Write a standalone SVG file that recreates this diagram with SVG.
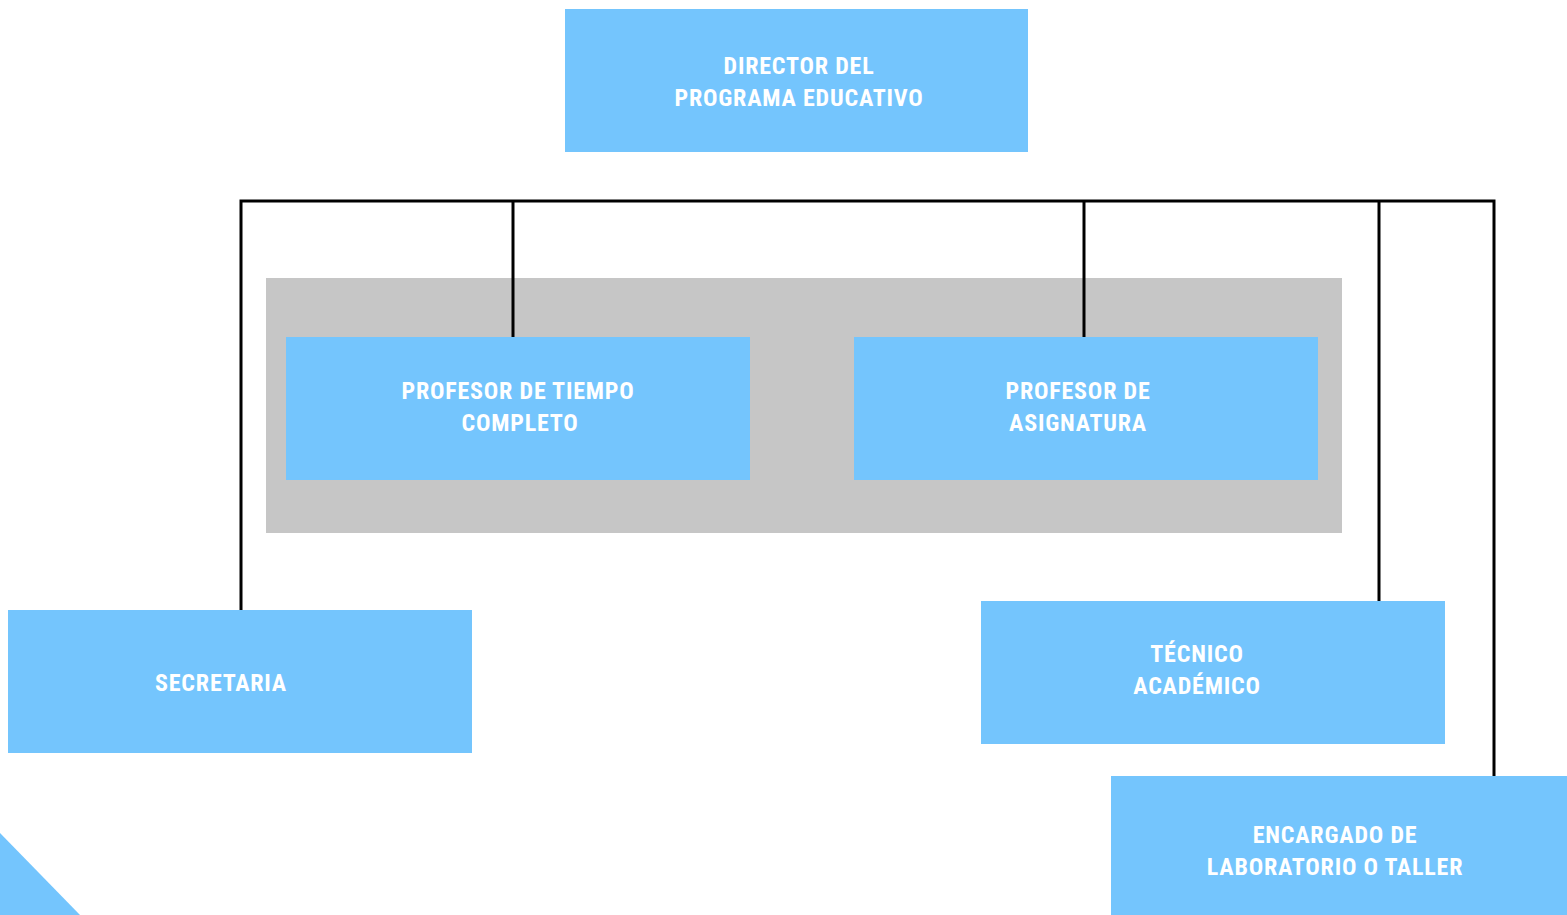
<svg xmlns="http://www.w3.org/2000/svg" width="1567" height="915" viewBox="0 0 1567 915">
<style>
.box{fill:#74C5FD}
.lbl{font-family:"Liberation Sans Narrow","Roboto Condensed","Liberation Sans",sans-serif;font-weight:bold;font-size:24px;letter-spacing:0.8px;fill:#FFFFFF;text-anchor:middle}
.ln{stroke:#000;stroke-width:3;fill:none}
</style>
<rect width="1567" height="915" fill="#FFFFFF"/>
<rect x="266" y="278" width="1076" height="255" fill="#C6C6C6"/>
<polygon points="0,833 80,915 0,915" fill="#74C5FD"/>
<g id="connectors">
<polyline class="ln" points="241,610 241,201 1494,201 1494,776"/>
<line class="ln" x1="513" y1="201" x2="513" y2="337"/>
<line class="ln" x1="1084" y1="201" x2="1084" y2="337"/>
<line class="ln" x1="1379" y1="201" x2="1379" y2="601"/>
</g>
<g id="director">
<rect class="box" x="565" y="9" width="463" height="143"/>
<text class="lbl" x="799" y="74">DIRECTOR DEL</text>
<text class="lbl" x="799" y="106">PROGRAMA EDUCATIVO</text>
</g>
<g id="prof-tiempo">
<rect class="box" x="286" y="337" width="464" height="143"/>
<text class="lbl" x="518" y="399">PROFESOR DE TIEMPO</text>
<text class="lbl" x="520" y="431">COMPLETO</text>
</g>
<g id="prof-asignatura">
<rect class="box" x="854" y="337" width="464" height="143"/>
<text class="lbl" x="1078" y="399">PROFESOR DE</text>
<text class="lbl" x="1078" y="431">ASIGNATURA</text>
</g>
<g id="secretaria">
<rect class="box" x="8" y="610" width="464" height="143"/>
<text class="lbl" x="221" y="691">SECRETARIA</text>
</g>
<g id="tecnico">
<rect class="box" x="981" y="601" width="464" height="143"/>
<text class="lbl" x="1197" y="662">TÉCNICO</text>
<text class="lbl" x="1197" y="694">ACADÉMICO</text>
</g>
<g id="encargado">
<rect class="box" x="1111" y="776" width="456" height="139"/>
<text class="lbl" x="1335" y="843">ENCARGADO DE</text>
<text class="lbl" x="1335" y="875">LABORATORIO O TALLER</text>
</g>
</svg>
